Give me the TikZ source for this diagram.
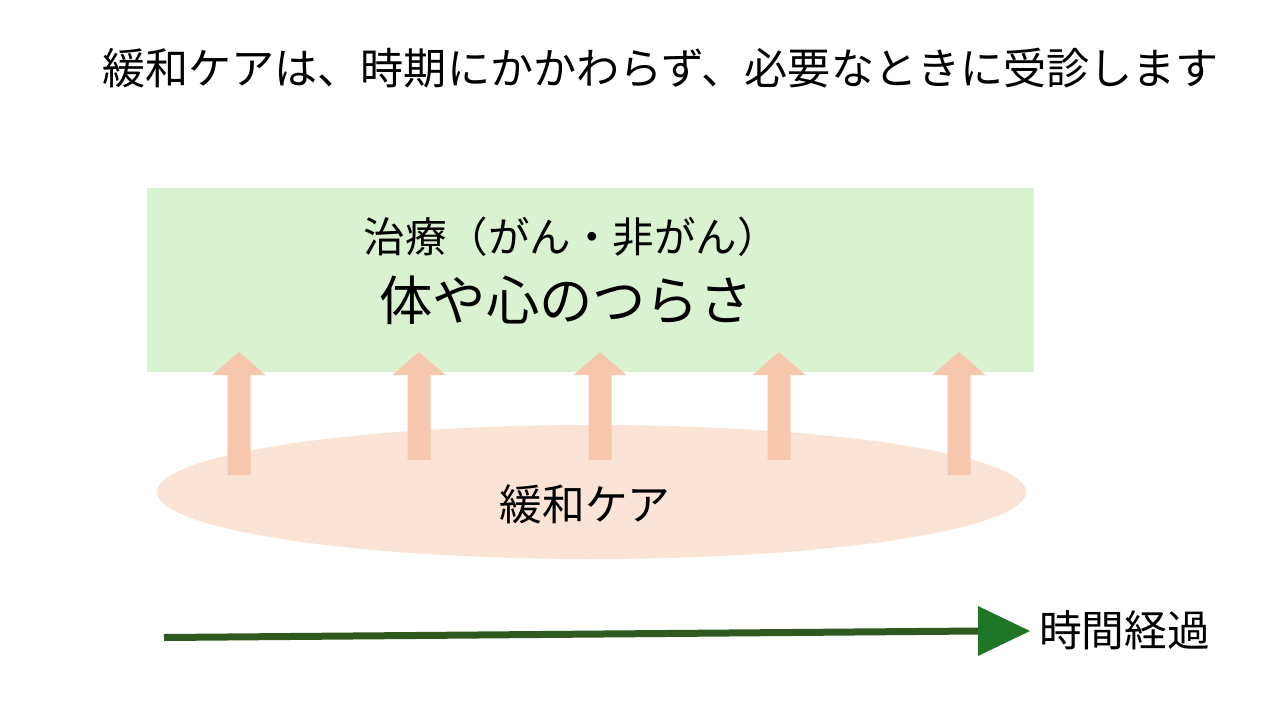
\documentclass[tikz,border=0pt]{standalone}
\usepackage{fontspec}
\usetikzlibrary{shapes.geometric}
\setmainfont{Noto Sans CJK JP}
\definecolor{boxgreen}{HTML}{D9F2D0}
\definecolor{ellpink}{HTML}{FBE3D6}
\definecolor{arrpink}{HTML}{F6C6AD}
\definecolor{linegreen}{HTML}{2F5A1F}
\definecolor{headgreen}{HTML}{1F7528}
\begin{document}
\begin{tikzpicture}[x=1pt,y=-1pt,
  txt/.style={inner sep=0pt,text=black,font=\fontsize{42.7pt}{50pt}\selectfont},
  bigtxt/.style={inner sep=0pt,text=black,font=\fontsize{53.3pt}{60pt}\selectfont},
  uparrow/.style={fill=arrpink,draw=none}]
\useasboundingbox (0,0) rectangle (1280,720);
\fill[white] (0,0) rectangle (1280,720);
% title
\node[txt,anchor=west,font=\fontsize{43.1pt}{50pt}\selectfont] (title) at (102,68) {緩和ケアは、時期にかかわらず、必要なときに受診します};
% green box
\node[fill=boxgreen,draw=none,minimum width=887pt,minimum height=184pt,inner sep=0pt] (box) at (590.5,280) {};
\node[txt,font=\fontsize{41.5pt}{50pt}\selectfont] (treat) at (571,237) {治療（がん・非がん）};
\node[bigtxt] (pain) at (566,300) {体や心のつらさ};
% ellipse
\node[ellipse,fill=ellpink,draw=none,minimum width=869pt,minimum height=134pt,inner sep=0pt] (care) at (591.5,492) {};
\node[txt] (caretxt) at (585,504) {緩和ケア};
% block arrows
\foreach \c/\b/\n in {239/475/a1,419/460/a2,600/460/a3,779/460/a4,959/475/a5}{
  \fill[uparrow] (\c-11.5,\b) -- (\c-11.5,375) -- (\c-26.5,375) -- (\c,352) -- (\c+26.5,375) -- (\c+11.5,375) -- (\c+11.5,\b) -- cycle;
  \coordinate (\n) at (\c,352);
}
% time arrow
\coordinate (tstart) at (164,637.5);
\coordinate (tend) at (979,631);
\draw[linegreen,line width=7pt] (tstart) -- (tend);
\fill[headgreen] (978,606) -- (1030,631) -- (978,656) -- cycle;
\node[txt,anchor=west] (time) at (1039,630) {時間経過};
\end{tikzpicture}
\end{document}
